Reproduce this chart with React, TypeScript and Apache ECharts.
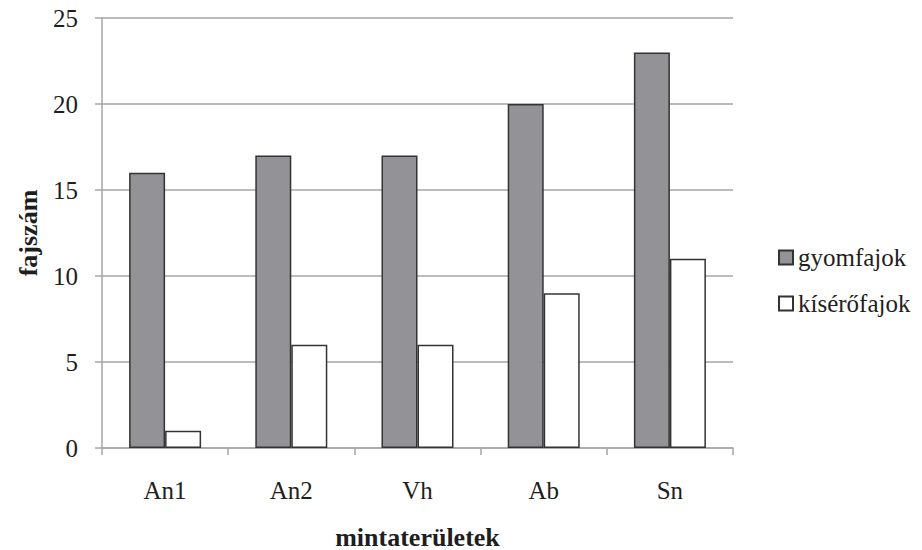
import React, { useEffect, useRef } from "react";
import * as echarts from "echarts";

const categories = ["An1", "An2", "Vh", "Ab", "Sn"];
const gyomfajok = [16, 17, 17, 20, 23];
const kiserofajok = [1, 6, 6, 9, 11];
const seriesNames = ["gyomfajok", "kísérőfajok"];

const FONT = "'Liberation Serif', 'Times New Roman', Times, serif";
const TXT = "#1e1e1e";

export default function App() {
  const ref = useRef<HTMLDivElement>(null);
  useEffect(() => {
    if (!ref.current) return;
    const chart = echarts.init(ref.current, null, { renderer: "svg" });
    chart.setOption({
      animation: false,
      backgroundColor: "#ffffff",
      textStyle: { fontFamily: FONT, color: TXT },
      grid: { left: 102, right: 189, top: 18, bottom: 102, containLabel: false, outerBoundsMode: "none" },
      legend: {
        orient: "vertical",
        left: 773,
        top: 240,
        padding: 5,
        itemWidth: 14,
        itemHeight: 14,
        itemGap: 21,
        icon: "rect",
        textStyle: { fontFamily: FONT, fontSize: 25, color: TXT },
        data: seriesNames,
      },
      xAxis: {
        type: "category",
        data: categories,
        name: "mintaterületek",
        nameLocation: "middle",
        nameGap: 76,
        nameTextStyle: { fontFamily: FONT, fontSize: 26, fontWeight: "bold", color: TXT },
        axisLine: { show: true, lineStyle: { color: "#a6a6a6", width: 1.5 } },
        axisTick: { show: true, length: 7, alignWithLabel: false, lineStyle: { color: "#a6a6a6", width: 1.5 } },
        axisLabel: { fontFamily: FONT, fontSize: 25, color: TXT, margin: 30 },
      },
      yAxis: {
        type: "value",
        min: 0,
        max: 25,
        interval: 5,
        name: "fajszám",
        nameLocation: "middle",
        nameGap: 61,
        nameTextStyle: { fontFamily: FONT, fontSize: 26, fontWeight: "bold", color: TXT },
        axisLine: { show: true, lineStyle: { color: "#a6a6a6", width: 1.5 } },
        axisTick: { show: true, length: 7, lineStyle: { color: "#a6a6a6", width: 1.5 } },
        axisLabel: { fontFamily: FONT, fontSize: 25, color: TXT, margin: 24 },
        splitLine: { show: true, lineStyle: { color: "#a6a6a6", width: 1.5 } },
      },
      series: [
        {
          name: seriesNames[0],
          type: "bar",
          data: gyomfajok,
          barWidth: 36,
          barGap: "0%",
          itemStyle: { color: "#939397", borderColor: "#333", borderWidth: 1.5 },
        },
        {
          name: seriesNames[1],
          type: "bar",
          data: kiserofajok,
          barWidth: 36,
          barGap: "0%",
          itemStyle: { color: "#ffffff", borderColor: "#333", borderWidth: 1.5 },
        },
      ],
    });
    return () => chart.dispose();
  }, []);
  return <div ref={ref} style={{ width: 922, height: 550, position: "absolute", left: 0, top: 0 }} />;
}
